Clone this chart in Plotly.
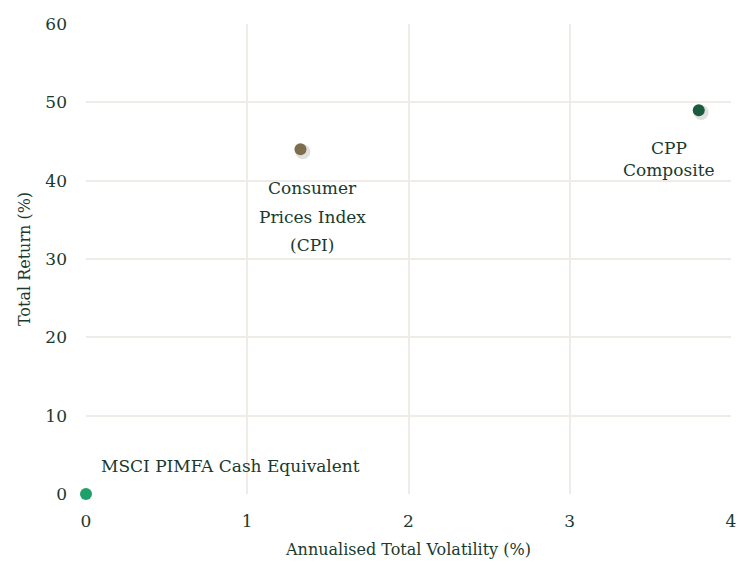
import plotly.graph_objects as go

names = ["MSCI PIMFA Cash Equivalent", "Consumer Prices Index (CPI)", "CPP Composite"]
volatility = [0.0, 1.33, 3.80]
total_return = [0.0, 44.0, 49.0]
colors = ["#1fa06b", "#7d6d4c", "#1d5b40"]

x_ticks = [0, 1, 2, 3, 4]
y_ticks = [0, 10, 20, 30, 40, 50, 60]

FONT = "DejaVu Serif"
TXT = "#1a3a2d"
GRID = "#efebe6"
FS = 17

fig = go.Figure()

# soft shadow
fig.add_trace(go.Scatter(
    x=[v + 0.015 for v in volatility], y=[r - 0.3 for r in total_return],
    mode="markers", marker=dict(size=15, color="rgba(0,0,0,0.12)"),
    hoverinfo="skip", showlegend=False, cliponaxis=False))
fig.add_trace(go.Scatter(
    x=volatility, y=total_return, mode="markers", text=names,
    marker=dict(size=12, color=colors), showlegend=False, cliponaxis=False))

# labels
label_font = dict(family=FONT, size=FS, color=TXT)
fig.add_annotation(x=volatility[0], y=total_return[0], text="MSCI PIMFA Cash Equivalent",
                   xanchor="left", yanchor="middle", xshift=13, yshift=28,
                   showarrow=False, font=label_font)
cpi_lines = ["Consumer", "Prices Index", "(CPI)"]
for i, line in enumerate(cpi_lines):
    fig.add_annotation(x=volatility[1], y=total_return[1], text=line,
                       xanchor="center", yanchor="middle", xshift=12, yshift=-39 - 28.5 * i,
                       showarrow=False, font=label_font)
cpp_lines = ["CPP", "Composite"]
for i, line in enumerate(cpp_lines):
    fig.add_annotation(x=volatility[2], y=total_return[2], text=line,
                       xanchor="center", yanchor="middle", xshift=-30, yshift=-38 - 22 * i,
                       showarrow=False, font=label_font)

fig.update_layout(
    width=737, height=565,
    margin=dict(l=86, r=6, t=24, b=71),
    paper_bgcolor="white", plot_bgcolor="white",
    font=dict(family=FONT, color=TXT, size=FS),
)
fig.update_xaxes(range=[0, 4], tickvals=x_ticks, showgrid=True, gridcolor=GRID, gridwidth=1.5,
                 zeroline=False, showline=False, ticks="", ticklabelstandoff=15, automargin=False,
                 tickfont=dict(family=FONT, size=FS, color=TXT),
                 title=dict(text="Annualised Total Volatility (%)", standoff=13,
                            font=dict(family=FONT, size=16, color=TXT)))
fig.update_yaxes(range=[0, 60], tickvals=y_ticks, showgrid=True, gridcolor=GRID, gridwidth=1.5,
                 zeroline=False, showline=False, ticks="", ticklabelstandoff=18, automargin=False,
                 tickfont=dict(family=FONT, size=FS, color=TXT),
                 title=dict(text="Total Return (%)", standoff=10,
                            font=dict(family=FONT, size=16, color=TXT)))

fig.write_html("out.html", config={"displayModeBar": False},
               post_script="document.body.style.margin='0';document.body.style.overflow='hidden';")
